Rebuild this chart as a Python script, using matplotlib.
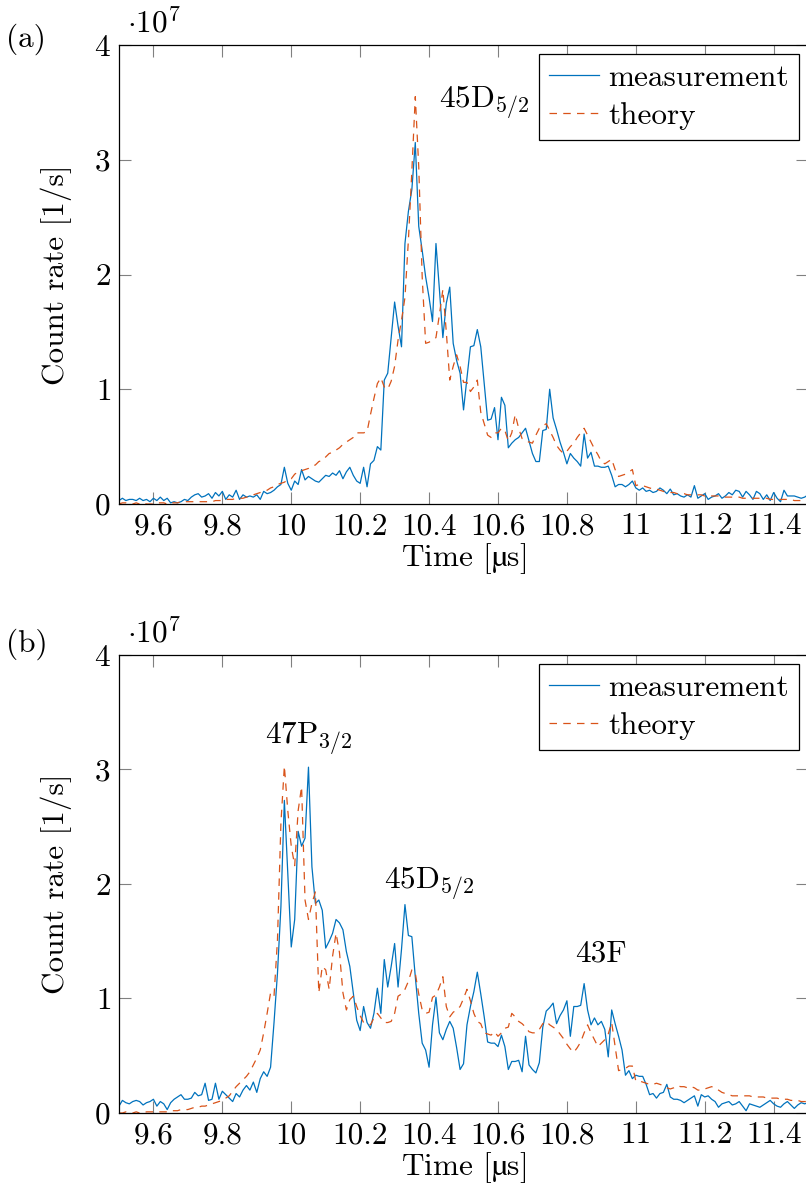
import numpy as np
import matplotlib
matplotlib.use('Agg')
import matplotlib.pyplot as plt
from matplotlib.ticker import FuncFormatter

# font close to the LaTeX / pgfplots look
plt.rcParams['font.family'] = ['cmr10', 'DejaVu Serif']
plt.rcParams['mathtext.fontset'] = 'cm'
plt.rcParams['axes.formatter.use_mathtext'] = True
plt.rcParams['font.size'] = 22.5

# time axis [µs], 0.01 µs bins
time = np.linspace(9.5, 11.5, 201)

# count rates in units of 1e7 1/s
meas_a = [0.03, 0.05, 0.03, 0.04, 0.04, 0.03, 0.05, 0.03, 0.04, 0.02,
          0.05, 0.03, 0.06, 0.03, 0.05, 0.01, 0.02, 0.01, 0.02, 0.04,
          0.03, 0.06, 0.08, 0.09, 0.06, 0.07, 0.09, 0.05, 0.10, 0.07,
          0.11, 0.04, 0.08, 0.06, 0.12, 0.04, 0.08, 0.06, 0.07, 0.06,
          0.08, 0.04, 0.11, 0.09, 0.10, 0.12, 0.15, 0.17, 0.32, 0.18,
          0.12, 0.20, 0.17, 0.30, 0.21, 0.24, 0.22, 0.20, 0.19, 0.22,
          0.25, 0.24, 0.27, 0.25, 0.29, 0.22, 0.28, 0.32, 0.25, 0.20,
          0.18, 0.32, 0.15, 0.35, 0.38, 0.50, 0.47, 1.08, 1.14, 1.45,
          1.76, 1.55, 1.37, 2.27, 2.55, 2.74, 3.15, 2.42, 2.21, 1.98,
          1.80, 1.59, 2.27, 1.87, 1.45, 1.75, 1.89, 1.40, 1.25, 1.14,
          0.82, 1.10, 1.37, 1.38, 1.52, 1.37, 1.05, 0.73, 0.74, 0.84,
          0.56, 0.93, 0.86, 0.49, 0.53, 0.56, 0.58, 0.62, 0.66, 0.55,
          0.44, 0.37, 0.37, 0.64, 0.65, 1.00, 0.75, 0.65, 0.54, 0.45,
          0.35, 0.44, 0.40, 0.37, 0.33, 0.61, 0.40, 0.45, 0.33, 0.33,
          0.32, 0.32, 0.33, 0.25, 0.15, 0.17, 0.17, 0.15, 0.17, 0.20,
          0.14, 0.12, 0.14, 0.11, 0.12, 0.10, 0.11, 0.14, 0.12, 0.09,
          0.13, 0.08, 0.09, 0.07, 0.06, 0.08, 0.06, 0.16, 0.05, 0.07,
          0.09, 0.04, 0.06, 0.07, 0.09, 0.05, 0.07, 0.10, 0.08, 0.12,
          0.11, 0.06, 0.11, 0.08, 0.04, 0.11, 0.09, 0.04, 0.08, 0.03,
          0.10, 0.05, 0.02, 0.12, 0.07, 0.07, 0.07, 0.06, 0.05, 0.06, 0.08]

theory_a = [0.00, 0.01, 0.01, 0.00, 0.00, 0.01, 0.00, 0.01, 0.00, 0.00,
            0.00, 0.01, 0.01, 0.01, 0.00, 0.01, 0.01, 0.01, 0.02, 0.02,
            0.02, 0.02, 0.02, 0.02, 0.02, 0.02, 0.02, 0.02, 0.03, 0.03,
            0.03, 0.04, 0.04, 0.04, 0.05, 0.05, 0.05, 0.06, 0.07, 0.08,
            0.09, 0.10, 0.11, 0.12, 0.14, 0.15, 0.17, 0.18, 0.19, 0.21,
            0.22, 0.26, 0.28, 0.29, 0.30, 0.31, 0.33, 0.34, 0.37, 0.38,
            0.41, 0.44, 0.45, 0.47, 0.49, 0.52, 0.54, 0.56, 0.58, 0.62,
            0.62, 0.62, 0.63, 0.78, 0.92, 1.05, 1.10, 1.02, 1.00, 1.07,
            1.20, 1.43, 1.60, 1.80, 2.30, 2.90, 3.55, 2.94, 1.98, 1.40,
            1.41, 1.43, 1.45, 1.65, 1.87, 1.50, 1.08, 1.20, 1.30, 1.20,
            1.06, 1.06, 0.98, 1.02, 1.08, 0.80, 0.70, 0.60, 0.58, 0.62,
            0.62, 0.66, 0.64, 0.55, 0.62, 0.78, 0.66, 0.57, 0.55, 0.54,
            0.53, 0.60, 0.66, 0.68, 0.70, 0.64, 0.58, 0.51, 0.47, 0.44,
            0.46, 0.50, 0.53, 0.58, 0.62, 0.66, 0.60, 0.54, 0.48, 0.43,
            0.37, 0.35, 0.37, 0.39, 0.30, 0.24, 0.25, 0.26, 0.28, 0.30,
            0.16, 0.17, 0.16, 0.15, 0.14, 0.13, 0.13, 0.12, 0.11, 0.10,
            0.10, 0.10, 0.09, 0.09, 0.09, 0.08, 0.08, 0.08, 0.08, 0.08,
            0.07, 0.07, 0.07, 0.07, 0.07, 0.06, 0.06, 0.06, 0.06, 0.06,
            0.06, 0.05, 0.05, 0.05, 0.05, 0.05, 0.05, 0.05, 0.05, 0.04,
            0.04, 0.04, 0.04, 0.04, 0.04, 0.04, 0.03, 0.03, 0.03, 0.03, 0.03]

meas_b = [0.06, 0.11, 0.09, 0.08, 0.10, 0.11, 0.10, 0.07, 0.09, 0.10,
          0.12, 0.06, 0.10, 0.08, 0.03, 0.09, 0.12, 0.14, 0.16, 0.12,
          0.12, 0.13, 0.18, 0.15, 0.16, 0.26, 0.11, 0.12, 0.26, 0.12,
          0.19, 0.16, 0.13, 0.10, 0.17, 0.14, 0.20, 0.24, 0.20, 0.27,
          0.18, 0.30, 0.36, 0.32, 0.40, 0.79, 1.22, 1.80, 2.73, 2.10,
          1.45, 1.69, 2.46, 2.33, 2.40, 3.02, 2.15, 1.83, 1.86, 1.77,
          1.44, 1.50, 1.57, 1.69, 1.66, 1.60, 1.41, 1.28, 1.05, 0.81,
          0.72, 0.93, 0.79, 0.74, 0.87, 1.09, 0.87, 1.34, 1.10, 1.28,
          1.48, 1.10, 1.43, 1.82, 1.55, 1.54, 1.19, 0.87, 0.61, 0.55,
          0.40, 0.77, 1.01, 0.70, 0.64, 0.73, 0.80, 0.74, 0.57, 0.38,
          0.43, 0.77, 0.93, 1.06, 1.23, 1.04, 0.84, 0.62, 0.61, 0.61,
          0.58, 0.68, 0.58, 0.38, 0.45, 0.45, 0.46, 0.36, 0.67, 0.42,
          0.38, 0.35, 0.44, 0.75, 0.89, 0.92, 0.96, 0.78, 0.85, 0.90,
          0.98, 0.67, 0.93, 0.93, 0.94, 1.13, 0.90, 0.77, 0.83, 0.77,
          0.80, 0.73, 0.49, 0.90, 0.78, 0.67, 0.55, 0.33, 0.37, 0.30,
          0.33, 0.32, 0.32, 0.25, 0.16, 0.17, 0.13, 0.17, 0.18, 0.25,
          0.14, 0.12, 0.12, 0.11, 0.09, 0.11, 0.13, 0.15, 0.06, 0.16,
          0.14, 0.15, 0.12, 0.10, 0.05, 0.08, 0.09, 0.10, 0.07, 0.08,
          0.10, 0.06, 0.02, 0.08, 0.07, 0.06, 0.05, 0.07, 0.09, 0.11,
          0.08, 0.06, 0.05, 0.08, 0.10, 0.07, 0.04, 0.07, 0.09, 0.08, 0.09]

theory_b = [0.00, 0.00, 0.01, 0.00, 0.00, 0.01, 0.00, 0.00, 0.01, 0.01,
            0.01, 0.01, 0.01, 0.01, 0.01, 0.02, 0.02, 0.02, 0.03, 0.03,
            0.03, 0.04, 0.05, 0.05, 0.06, 0.06, 0.07, 0.08, 0.09, 0.10,
            0.11, 0.13, 0.15, 0.19, 0.23, 0.26, 0.29, 0.32, 0.36, 0.42,
            0.48, 0.55, 0.70, 0.87, 1.05, 1.02, 1.51, 2.53, 3.03, 2.64,
            2.33, 2.16, 2.64, 2.85, 1.86, 1.69, 1.83, 1.93, 1.05, 1.28,
            1.25, 1.08, 1.37, 1.57, 1.40, 1.05, 0.90, 0.99, 1.02, 0.93,
            0.85, 0.79, 0.78, 0.77, 0.83, 0.87, 0.83, 0.79, 0.79, 0.80,
            0.87, 1.02, 1.04, 1.08, 1.15, 1.25, 1.22, 1.04, 0.90, 0.87,
            0.88, 1.01, 1.03, 1.10, 1.19, 0.93, 0.84, 0.88, 0.90, 0.93,
            1.00, 1.08, 0.98, 0.87, 0.80, 0.78, 0.70, 0.69, 0.68, 0.71,
            0.67, 0.70, 0.74, 0.75, 0.87, 0.84, 0.80, 0.78, 0.75, 0.71,
            0.70, 0.70, 0.73, 0.78, 0.80, 0.77, 0.75, 0.73, 0.69, 0.65,
            0.60, 0.56, 0.53, 0.57, 0.62, 0.70, 0.77, 0.70, 0.64, 0.58,
            0.61, 0.64, 0.69, 0.79, 0.58, 0.37, 0.38, 0.39, 0.41, 0.41,
            0.28, 0.28, 0.27, 0.26, 0.25, 0.25, 0.26, 0.25, 0.24, 0.22,
            0.21, 0.22, 0.24, 0.23, 0.23, 0.22, 0.23, 0.22, 0.20, 0.20,
            0.21, 0.22, 0.23, 0.22, 0.20, 0.18, 0.17, 0.16, 0.15, 0.15,
            0.15, 0.15, 0.15, 0.15, 0.14, 0.14, 0.14, 0.14, 0.13, 0.13,
            0.13, 0.13, 0.12, 0.12, 0.12, 0.11, 0.11, 0.11, 0.10, 0.10, 0.10]

# state labels: (text, time, count rate)
labels_a = [(r'45D$_{5/2}$', 10.56, 3.5)]
labels_b = [(r'47P$_{3/2}$', 10.05, 3.27),
            (r'45D$_{5/2}$', 10.40, 2.0),
            ('43F', 10.90, 1.39)]

x_ticks = [9.6, 9.8, 10.0, 10.2, 10.4, 10.6, 10.8, 11.0, 11.2, 11.4]
y_ticks = [0, 1, 2, 3, 4]

blue = '#0072BD'
red = '#D95319'


def drawPanel(ax, meas, theory, labels):
    ax.plot(time, meas, color=blue, lw=0.9, label='measurement')
    ax.plot(time, theory, color=red, lw=0.9, linestyle=(0, (6, 5)),
            label='theory')
    ax.set_xlim(9.5, 11.5)
    ax.set_ylim(0, 4)
    ax.set_xticks(x_ticks)
    ax.set_yticks(y_ticks)
    ax.xaxis.set_major_formatter(FuncFormatter(lambda v, p: '%g' % v))
    ax.tick_params(direction='in', length=8.5, width=0.8, color='0.5',
                   top=True, right=True, pad=6)
    for s in ax.spines.values():
        s.set_linewidth(0.9)
    # cmr10 has no micro sign, take it from the STIX math font
    ax.set_xlabel(r'Time [$\mathrm{µ}$s]', labelpad=0.5, math_fontfamily='stix')
    ax.set_ylabel('Count rate [1/s]', labelpad=16)
    ax.text(0.012, 1.012, r'$\cdot 10^{7}$', transform=ax.transAxes,
            ha='left', va='bottom')
    for txt, x, y in labels:
        ax.text(x, y, txt, ha='center', va='center')
    leg = ax.legend(loc='upper right', fancybox=False, framealpha=1,
                    edgecolor='black', handlelength=1.6, handletextpad=0.28,
                    borderpad=0.32, labelspacing=0.3, borderaxespad=0.3)
    leg.get_frame().set_linewidth(0.9)


fig = plt.figure(figsize=(8.06, 12), dpi=100)
ax_a = fig.add_axes([0.1476, 0.58, 0.855, 0.3825])
ax_b = fig.add_axes([0.1476, 0.0725, 0.855, 0.3817])

drawPanel(ax_a, meas_a, theory_a, labels_a)
drawPanel(ax_b, meas_b, theory_b, labels_b)

fig.text(0.008, 0.967, '(a)', ha='left', va='center')
fig.text(0.008, 0.463, '(b)', ha='left', va='center')

fig.savefig('out.png', dpi=100)
